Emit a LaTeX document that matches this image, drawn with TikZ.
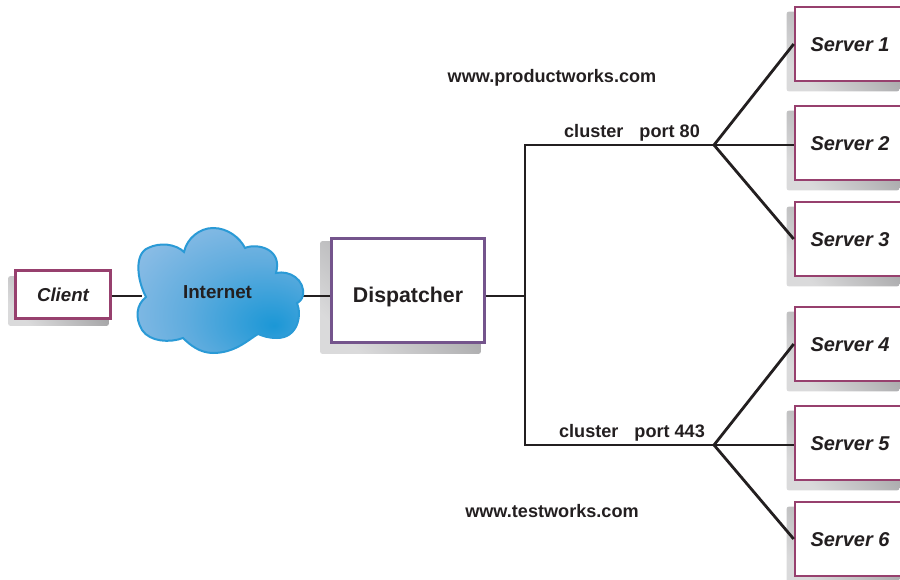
\documentclass[tikz,border=0pt]{standalone}
\usepackage{fontspec}
\setmainfont{Liberation Sans}
\usetikzlibrary{calc,backgrounds}
\definecolor{inkBlack}{HTML}{231F20}
\definecolor{serverEdge}{HTML}{97406E}
\definecolor{dispatchEdge}{HTML}{74548C}
\definecolor{cloudEdge}{HTML}{2A9AD6}
\definecolor{shadeDark}{HTML}{98989A}
\definecolor{shadeLight}{HTML}{DADADB}
\definecolor{glowA}{HTML}{1B97D6}
\definecolor{glowB}{HTML}{5FACDE}
\definecolor{glowC}{HTML}{8FBEE6}
\definecolor{glowD}{HTML}{B8D4EF}
\definecolor{glowE}{HTML}{C8DEF2}
\pgfdeclareradialshading{cloudGlow}{\pgfpoint{16bp}{-14bp}}{%
    color(0bp)=(glowA);
    color(22bp)=(glowB);
    color(42bp)=(glowC);
    color(60bp)=(glowD);
    color(100bp)=(glowE)}

\begin{document}
\begin{tikzpicture}[x=1pt, y=-1pt, node distance=99pt, inkBlack]
        \tikzset{
           server/.style={
                        rectangle,
                        draw=serverEdge,
                        line width=2.6pt,
                        fill=white,
                        minimum width=110pt,
                        minimum height=74pt,
                        text height=15pt,
                        text depth=0pt,
                        font=\fontsize{20}{24}\selectfont\bfseries\itshape
                       },
           client/.style={
                        rectangle,
                        draw=serverEdge,
                        line width=2.6pt,
                        fill=white,
                        minimum width=95pt,
                        minimum height=48pt,
                        font=\fontsize{18.7}{22}\selectfont\bfseries\itshape
                       },
           dispatcher/.style={
                        rectangle,
                        draw=dispatchEdge,
                        line width=2.6pt,
                        fill=white,
                        minimum width=153pt,
                        minimum height=104pt,
                        text height=23pt,
                        text depth=0pt,
                        font=\fontsize{21.3}{25}\selectfont\bfseries
                       },
           caption/.style={
                        inner sep=0pt,
                        font=\fontsize{18.1}{21}\selectfont\bfseries
                       },
           shadowBox/.style={
                        rounded corners=2pt,
                        top color=shadeDark,
                        bottom color=shadeLight,
                        shading angle=-45
                       },
           wire/.style={
                        draw=inkBlack,
                        line width=2.8pt
                       },
                 };
        \useasboundingbox (0,0) rectangle (900,580);
    %--------------------
        \node[client]     (client)     at (63,294.5)                            {Client};
        \node[dispatcher] (dispatcher) at (408,290.5)                           {Dispatcher};

        \node[server]     (server1)    at (850,44)                              {Server 1};
        \node[server]     (server2)    [below of=server1]                       {Server 2};
        \node[server]     (server3)    [below of=server2, node distance=96pt]   {Server 3};
        \node[server]     (server4)    [below of=server3, node distance=105pt]  {Server 4};
        \node[server]     (server5)    [below of=server4]                       {Server 5};
        \node[server]     (server6)    [below of=server5, node distance=96pt]   {Server 6};

        \coordinate (cloudWest) at (142,296);
        \coordinate (cloudEast) at (301,296);
        \coordinate (trunk)     at (525,296);
        \coordinate (fanTop)    at (714,145);
        \coordinate (fanBottom) at (714,445);
    %--------------------
        \begin{scope}[on background layer]
            \shade[shadowBox] ($(client.north west)+(-6,7)$)     rectangle ($(client.south east)+(-3,6)$);
            \shade[shadowBox] ($(dispatcher.north west)+(-10,4)$) rectangle ($(dispatcher.south east)+(-5,10)$);
            \shade[shadowBox] ($(server1.north west)+(-7,6)$)    rectangle ($(server1.south east)+(-7,9)$);
            \shade[shadowBox] ($(server2.north west)+(-7,6)$)    rectangle ($(server2.south east)+(-7,9)$);
            \shade[shadowBox] ($(server3.north west)+(-7,6)$)    rectangle ($(server3.south east)+(-7,9)$);
            \shade[shadowBox] ($(server4.north west)+(-7,6)$)    rectangle ($(server4.south east)+(-7,9)$);
            \shade[shadowBox] ($(server5.north west)+(-7,6)$)    rectangle ($(server5.south east)+(-7,9)$);
            \shade[shadowBox] ($(server6.north west)+(-7,6)$)    rectangle ($(server6.south east)+(-7,9)$);
        \end{scope}
    %--------------------
        \path[wire] (cloudWest -| client.east) edge (cloudWest)
              (cloudEast) edge (cloudEast -| dispatcher.west)
              (trunk -| dispatcher.east) edge (trunk)

              (fanTop)    edge (server1.west)
              (fanTop)    edge (fanTop -| server2.west)
              (fanTop)    edge (server3.west)

              (fanBottom) edge (server4.west)
              (fanBottom) edge (fanBottom -| server5.west)
              (fanBottom) edge (server6.west);
        \draw[wire] (fanTop) -| (trunk) |- (fanBottom);
    %--------------------
        \path[shading=cloudGlow, draw=cloudEdge, line width=2pt]
            (146,297) .. controls (137,280) and (134,254) .. (148,248)
                      .. controls (160,242) and (176,244) .. (184,252)
                      .. controls (187,238) and (200,228) .. (213,228)
                      .. controls (228,228) and (240,238) .. (245,248)
                      .. controls (256,243) and (283,248) .. (276,273)
                      .. controls (290,270) and (305,280) .. (303,295)
                      .. controls (302,300) and (299,302) .. (297,303)
                      .. controls (302,315) and (298,338) .. (277,338)
                      .. controls (268,338) and (263,336) .. (258,334)
                      .. controls (248,340) and (235,353) .. (213,353)
                      .. controls (200,353) and (190,345) .. (183,338)
                      .. controls (170,343) and (150,342) .. (142,330)
                      .. controls (135,318) and (136,305) .. (146,297) -- cycle;
        \node[caption, font=\fontsize{18.8}{22}\selectfont\bfseries] (internet) at (217.5,292) {Internet};
    %--------------------
        \node[caption] (productworks) at (552,78)    {www.productworks.com};
        \node[caption] (clusterTop)   at (632,132.5) {cluster\hspace{16pt}port 80};
        \node[caption] (clusterLow)   at (632,432.5) {cluster\hspace{16pt}port 443};
        \node[caption] (testworks)    at (552,511)   {www.testworks.com};
    \end{tikzpicture}
\end{document}
